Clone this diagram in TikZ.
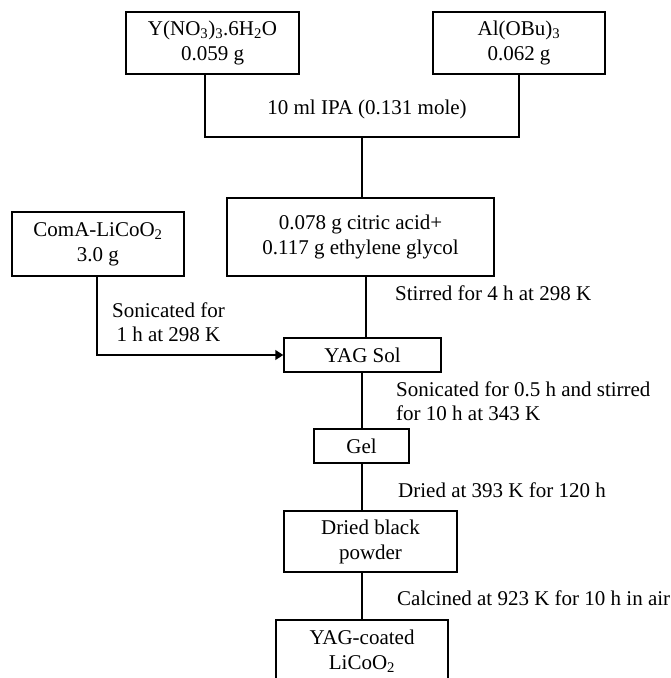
\documentclass[tikz,border=0pt]{standalone}
\usepackage{fontspec}
\setmainfont{Liberation Serif}
\usetikzlibrary{arrows.meta}
\begin{document}
\begin{tikzpicture}[x=1pt,y=-1pt,
  box/.style={draw,line width=1.5pt,inner sep=0pt,align=center,
    font=\fontsize{21}{25}\selectfont},
  lbl/.style={anchor=west,inner sep=0pt,align=left,
    font=\fontsize{21}{24}\selectfont},
  conn/.style={line width=1.5pt}]
\useasboundingbox (0,0) rectangle (670,678);
\begin{scope}
\clip (0,0) rectangle (670,678);
\node[box,minimum width=173pt,minimum height=62pt] (Y) at (212.5,43) {Y(NO\textsubscript{3})\textsubscript{3}.6H\textsubscript{2}O\\0.059 g};
\node[box,minimum width=172pt,minimum height=62pt] (Al) at (519,43) {Al(OBu)\textsubscript{3}\\0.062 g};
\node[box,minimum width=267pt,minimum height=78pt] (cit) at (360.5,237) {0.078 g citric acid+\\0.117 g ethylene glycol};
\node[box,minimum width=172pt,minimum height=64pt] (coma) at (98,244) {ComA-LiCoO\textsubscript{2}\\3.0 g};
\node[box,minimum width=157pt,minimum height=34pt] (sol) at (362.5,355) {YAG Sol};
\node[box,minimum width=95pt,minimum height=34pt] (gel) at (361.5,446) {Gel};
\node[box,minimum width=173pt,minimum height=61pt] (dry) at (370.5,541.5) {Dried black\\powder};
\node[box,minimum width=172pt,minimum height=90pt,anchor=north] (coat) at (362,619) {};
\node[inner sep=0pt,align=center,font=\fontsize{21}{25}\selectfont] (coattxt) at (362,651) {YAG-coated\\LiCoO\textsubscript{2}};

\coordinate (j) at (362,137);
\draw[conn] (205,74) |- (j) -| (Al.south);
\draw[conn] (j) -- (j |- cit.north);
\draw[conn] (366,276) -- (366,338);
\draw[conn,-{Triangle[length=8pt,width=10pt]}] (coma.south -| 97,0) |- (sol.west);
\draw[conn] (sol.south -| j) -- (gel.north -| j);
\draw[conn] (gel.south -| j) -- (dry.north -| j);
\draw[conn] (dry.south -| j) -- (coat.north -| j);

\node[anchor=center,inner sep=0pt,font=\fontsize{21}{24}\selectfont] (ipa) at (367,109) {10 ml IPA (0.131 mole)};
\node[lbl] (l1) at (395,293) {Stirred for 4 h at 298 K};
\node[lbl,align=center] (l2) at (112,322) {Sonicated for\\1 h at 298 K};
\node[lbl] (l3) at (396,401) {Sonicated for 0.5 h and stirred\\for 10 h at 343 K};
\node[lbl] (l4) at (398,490) {Dried at 393 K for 120 h};
\node[lbl] (l5) at (397,598) {Calcined at 923 K for 10 h in air};
\end{scope}
\end{tikzpicture}
\end{document}
